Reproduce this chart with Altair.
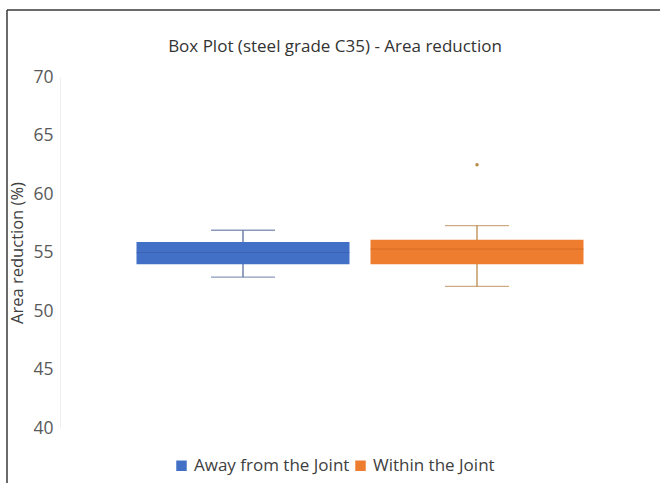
import altair as alt
import pandas as pd

# Five-number summaries of area reduction (%) per specimen location
groups = ["Away from the Joint", "Within the Joint"]
whisker_low = [52.9, 52.1]
q1 = [54.0, 54.0]
median = [55.0, 55.3]
q3 = [55.9, 56.1]
whisker_high = [56.9, 57.3]

# Points beyond the whiskers
outlier_group = ["Within the Joint"]
outlier_value = [62.5]

colors = ["#4170C6", "#EE7D2F"]
line_colors = ["#5A6E9E", "#B8894A"]
median_colors = ["#3A5DA8", "#C9651F"]

stats = pd.DataFrame({
    "group": groups,
    "low": whisker_low,
    "q1": q1,
    "median": median,
    "q3": q3,
    "high": whisker_high,
})
outliers = pd.DataFrame({"group": outlier_group, "value": outlier_value})

FONT = "Open Sans"

x_scale = alt.Scale(paddingInner=0, paddingOuter=0.282)
x_enc = alt.X("group:N", sort=groups, scale=x_scale, axis=None)
y_scale = alt.Scale(domain=[40, 70], nice=False, zero=False)

base = alt.Chart(stats).encode(x=x_enc)

whiskers = base.mark_rule(strokeWidth=1.3).encode(
    y=alt.Y(
        "low:Q",
        scale=y_scale,
        title="Area reduction (%)",
        axis=alt.Axis(
            values=[40, 45, 50, 55, 60, 65, 70],
            grid=False,
            ticks=False,
            domain=True,
            domainColor="#EEEEEE",
            labelFont=FONT,
            labelFontSize=17.5,
            labelColor="#595959",
            labelPadding=7,
            titleFont=FONT,
            titleFontSize=16.5,
            titleFontWeight="normal",
            titleColor="#404040",
            titlePadding=7,
        ),
    ),
    y2="high:Q",
    color=alt.Color("group:N", scale=alt.Scale(domain=groups, range=line_colors), legend=None),
)

caps_low = base.mark_tick(size=64, thickness=1.3).encode(
    y=alt.Y("low:Q", scale=y_scale),
    color=alt.Color("group:N", scale=alt.Scale(domain=groups, range=line_colors), legend=None),
)
caps_high = base.mark_tick(size=64, thickness=1.3).encode(
    y=alt.Y("high:Q", scale=y_scale),
    color=alt.Color("group:N", scale=alt.Scale(domain=groups, range=line_colors), legend=None),
)

boxes = base.mark_bar(size=213).encode(
    y=alt.Y("q1:Q", scale=y_scale),
    y2="q3:Q",
    color=alt.Color(
        "group:N",
        scale=alt.Scale(domain=groups, range=colors),
        legend=alt.Legend(
            title=None,
            orient="none",
            direction="horizontal",
            legendX=113,
            legendY=380,
            symbolType="square",
            symbolSize=110,
            symbolStrokeWidth=0,
            labelFont=FONT,
            labelFontSize=17,
            labelColor="#404040",
            labelOffset=4,
            columnPadding=2,
        ),
    ),
)

medians = base.mark_tick(size=213, thickness=1.2).encode(
    y=alt.Y("median:Q", scale=y_scale),
    color=alt.Color("group:N", scale=alt.Scale(domain=groups, range=median_colors), legend=None),
)

dots = alt.Chart(outliers).mark_circle(size=12, opacity=1, color="#B8894A").encode(
    x=alt.X("group:N", sort=groups, scale=x_scale, axis=None),
    y=alt.Y("value:Q", scale=y_scale),
)

# Outer frame of the chart (top and left edges)
frame_df = pd.DataFrame({"k": [0]})
frame_top = alt.Chart(frame_df).mark_rule(color="#3A3A3A", strokeWidth=1.5).encode(
    x=alt.value(-53), x2=alt.value(600), y=alt.value(-67)
)
frame_left = alt.Chart(frame_df).mark_rule(color="#3A3A3A", strokeWidth=1.5).encode(
    x=alt.value(-53), y=alt.value(-67), y2=alt.value(406)
)

chart = (
    alt.layer(whiskers, caps_low, caps_high, boxes, medians, dots, frame_top, frame_left)
    .resolve_scale(color="independent")
    .properties(
        width=600,
        height=351,
        padding={"left": 60, "top": 77, "right": 0, "bottom": 55},
        autosize=alt.AutoSizeParams(type="none"),
        background="white",
        title=alt.TitleParams(
            "Box Plot (steel grade C35) - Area reduction",
            font=FONT,
            fontSize=17,
            fontWeight="normal",
            color="#333333",
            anchor="middle",
            frame="group",
            dx=-25,
            offset=-47,
        ),
    )
    .configure_view(stroke=None)
)

chart.save("out.html", embed_options={"renderer": "svg", "actions": False})
